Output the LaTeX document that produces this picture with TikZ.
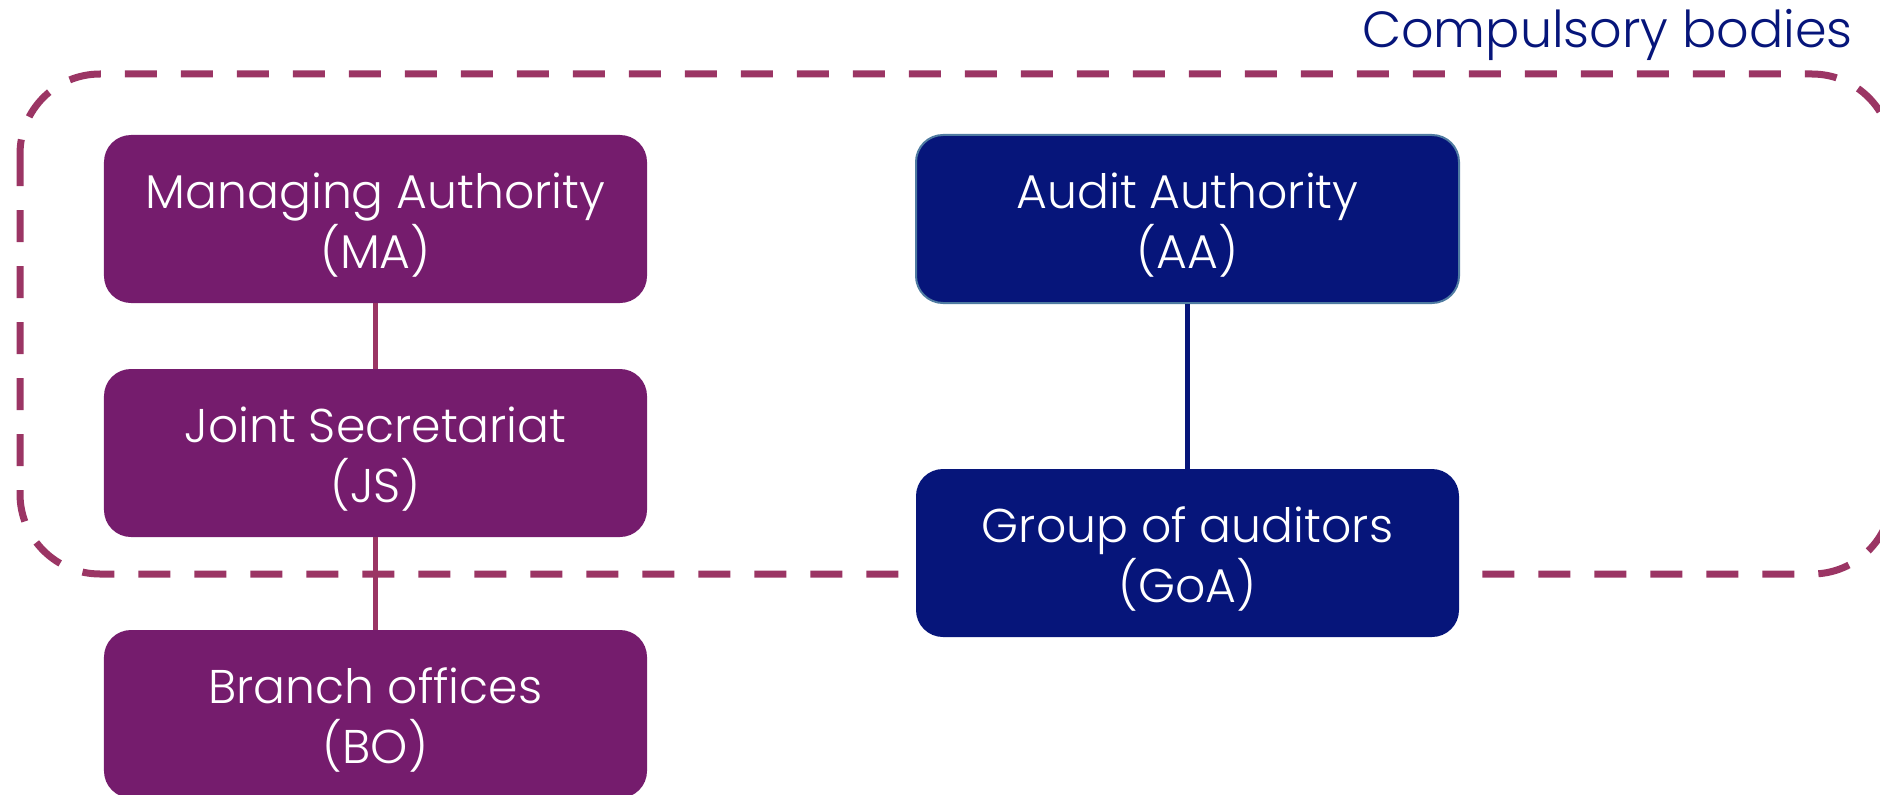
\documentclass[tikz,border=0pt]{standalone}
\usepackage{fontspec}
\setmainfont{Poppins Light}
\definecolor{boxpurple}{HTML}{751C6D}
\definecolor{boxnavy}{HTML}{06157A}
\definecolor{dashpurple}{HTML}{9B3564}
\definecolor{aaedge}{HTML}{4F7BA1}
\newcommand{\tstrut}{\rule{0pt}{48bp}}
\begin{document}
\begin{tikzpicture}[x=1bp,y=-1bp,
  orgbox/.style={rectangle, rounded corners=27bp, minimum width=543bp, minimum height=168bp,
    text=white, align=center, inner sep=0pt, font=\fontsize{47.5}{60}\selectfont},
  purplebox/.style={orgbox, fill=boxpurple},
  navybox/.style={orgbox, fill=boxnavy},
  purpleline/.style={draw=dashpurple, line width=5bp},
  navyline/.style={draw=boxnavy, line width=5bp},
  bodyframe/.style={draw=dashpurple, line width=7bp, dash pattern=on 32bp off 24bp, rounded corners=80bp}]
\useasboundingbox (0,0) rectangle (1880,795);
\begin{scope}
\clip (0,0) rectangle (1880,795);
\draw[bodyframe] (20,74) rectangle (1892,574);
\node[purplebox] (ma) at (375.5,219) {\tstrut Managing Authority\\(MA)};
\node[purplebox] (js) at (375.5,453) {\tstrut Joint Secretariat\\(JS)};
\node[purplebox] (bo) at (375.5,714) {\tstrut Branch offices\\(BO)};
\node[navybox, draw=aaedge, line width=2bp] (aa) at (1187.5,219) {\tstrut Audit Authority\\(AA)};
\node[navybox] (goa) at (1187.5,553) {\tstrut Group of auditors\\(GoA)};
\end{scope}
\node[anchor=base east, text=boxnavy, inner sep=0pt, font=\fontsize{51}{60}\selectfont] (title) at (1853,48) {Compulsory bodies};
\draw[purpleline] (ma.south) -- (js.north);
\draw[purpleline] (js.south) -- (bo.north);
\draw[navyline] (aa.south) -- (goa.north);
\end{tikzpicture}
\end{document}
